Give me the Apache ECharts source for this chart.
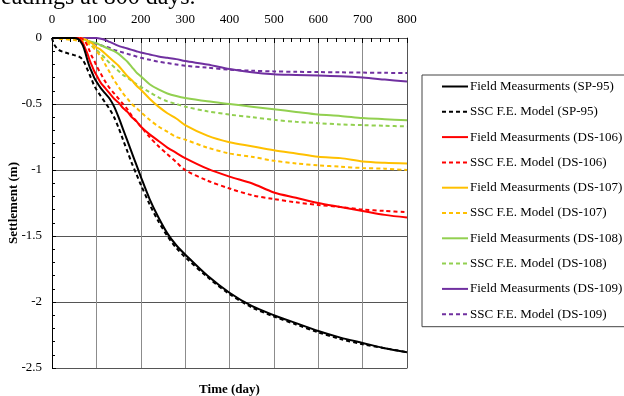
<!DOCTYPE html>
<html>
<head>
<meta charset="utf-8">
<script src="https://cdn.jsdelivr.net/npm/echarts@6/dist/echarts.min.js"></script>
<style>
html,body{margin:0;padding:0;background:#fff;}
#chart{width:624px;height:396px;}
</style>
</head>
<body>
<div id="chart"></div>
<script>
// ---- data ----
const days = [0,5,15,30,50,60,65,70,75,80,85,90,95,100,110,120,130,140,150,160,170,180,190,200,220,240,260,280,300,350,400,450,500,550,600,650,700,750,800];
const fieldSP95 = [0,0,0,0,0,-0.01,-0.03,-0.06,-0.11,-0.17,-0.22,-0.26,-0.3,-0.33,-0.38,-0.42,-0.46,-0.52,-0.6,-0.69,-0.78,-0.87,-0.96,-1.05,-1.22,-1.36,-1.48,-1.57,-1.64,-1.8,-1.93,-2.03,-2.1,-2.16,-2.22,-2.27,-2.31,-2.35,-2.38];
const modelSP95 = [0,-0.05,-0.09,-0.11,-0.13,-0.14,-0.15,-0.17,-0.2,-0.24,-0.28,-0.32,-0.36,-0.39,-0.44,-0.49,-0.54,-0.6,-0.68,-0.77,-0.86,-0.95,-1.03,-1.11,-1.26,-1.39,-1.5,-1.59,-1.66,-1.81,-1.94,-2.04,-2.11,-2.17,-2.23,-2.28,-2.32,-2.35,-2.38];
const fieldDS106 = [0,0,0,0,0,0,-0.02,-0.04,-0.08,-0.12,-0.17,-0.21,-0.25,-0.28,-0.34,-0.38,-0.42,-0.46,-0.49,-0.53,-0.56,-0.6,-0.63,-0.67,-0.73,-0.78,-0.83,-0.87,-0.91,-0.99,-1.05,-1.1,-1.17,-1.21,-1.25,-1.28,-1.31,-1.34,-1.36];
const modelDS106 = [0,0,0,0,0,0,0,-0.01,-0.03,-0.06,-0.1,-0.14,-0.17,-0.21,-0.27,-0.33,-0.38,-0.42,-0.46,-0.5,-0.54,-0.59,-0.63,-0.67,-0.75,-0.82,-0.88,-0.94,-1.0,-1.08,-1.14,-1.19,-1.22,-1.245,-1.265,-1.28,-1.3,-1.31,-1.32];
const fieldDS107 = [0,0,0,0,0,0,0,-0.005,-0.01,-0.02,-0.03,-0.04,-0.055,-0.07,-0.09,-0.12,-0.15,-0.18,-0.21,-0.25,-0.29,-0.32,-0.36,-0.39,-0.46,-0.52,-0.57,-0.61,-0.66,-0.74,-0.79,-0.82,-0.85,-0.875,-0.9,-0.91,-0.935,-0.945,-0.95];
const modelDS107 = [0,0,-0.005,-0.01,-0.015,-0.02,-0.02,-0.025,-0.03,-0.04,-0.05,-0.06,-0.08,-0.1,-0.14,-0.2,-0.26,-0.32,-0.37,-0.42,-0.46,-0.5,-0.53,-0.56,-0.62,-0.67,-0.71,-0.75,-0.77,-0.83,-0.875,-0.9,-0.93,-0.95,-0.965,-0.975,-0.985,-0.99,-1.0];
const fieldDS108 = [0,0,0,0,0,0,-0.005,-0.01,-0.015,-0.02,-0.025,-0.03,-0.035,-0.04,-0.055,-0.07,-0.085,-0.1,-0.12,-0.15,-0.18,-0.22,-0.26,-0.29,-0.35,-0.39,-0.42,-0.44,-0.455,-0.48,-0.5,-0.52,-0.54,-0.56,-0.58,-0.59,-0.606,-0.615,-0.624];
const modelDS108 = [0,0,0,0,0,0,-0.005,-0.01,-0.02,-0.03,-0.045,-0.06,-0.075,-0.09,-0.12,-0.155,-0.19,-0.22,-0.25,-0.28,-0.3,-0.325,-0.35,-0.37,-0.41,-0.45,-0.48,-0.5,-0.52,-0.555,-0.58,-0.6,-0.62,-0.635,-0.645,-0.655,-0.66,-0.665,-0.67];
const fieldDS109 = [0,0,0,0,0,0,0,0,0,0,0,0,0,0,-0.005,-0.015,-0.03,-0.045,-0.06,-0.07,-0.08,-0.09,-0.1,-0.11,-0.125,-0.14,-0.15,-0.16,-0.175,-0.2,-0.235,-0.26,-0.275,-0.28,-0.285,-0.29,-0.3,-0.315,-0.33];
const modelDS109 = [0,0,0,0,-0.005,-0.01,-0.012,-0.015,-0.02,-0.025,-0.03,-0.035,-0.04,-0.045,-0.055,-0.065,-0.075,-0.09,-0.1,-0.11,-0.12,-0.13,-0.14,-0.15,-0.165,-0.18,-0.19,-0.2,-0.21,-0.225,-0.24,-0.248,-0.253,-0.256,-0.258,-0.26,-0.262,-0.264,-0.265];

const seriesNames = [
  'Field Measurments (SP-95)','SSC F.E. Model (SP-95)',
  'Field Measurments (DS-106)','SSC F.E. Model (DS-106)',
  'Field Measurments (DS-107)','SSC F.E. Model (DS-107)',
  'Field Measurments (DS-108)','SSC F.E. Model (DS-108)',
  'Field Measurments (DS-109)','SSC F.E. Model (DS-109)'
];
const seriesValues = [fieldSP95, modelSP95, fieldDS106, modelDS106, fieldDS107, modelDS107, fieldDS108, modelDS108, fieldDS109, modelDS109];
const seriesColors = ['#000000','#000000','#ff0000','#ff0000','#ffc000','#ffc000','#92d050','#92d050','#7030a0','#7030a0'];
const xTicks = [0,800,100];
const yTicks = [-2.5,0,0.5];
const headerText = 'readings at 800 days.';

// ---- chart ----
const FONT = '"Liberation Serif", "Times New Roman", serif';
const chart = echarts.init(document.getElementById('chart'), null, {renderer:'canvas'});

const series = seriesNames.map((name, i) => ({
  name: name,
  type: 'line',
  xAxisIndex: 0,
  yAxisIndex: 0,
  data: days.map((d, k) => [d, seriesValues[i][k]]),
  showSymbol: false,
  symbol: 'none',
  smooth: 0.3,
  z: 10 - i,
  lineStyle: {
    color: seriesColors[i],
    width: 2,
    type: (i % 2 === 1) ? [4, 3] : 'solid'
  },
  itemStyle: {color: seriesColors[i]}
}));

const option = {
  animation: false,
  backgroundColor: '#ffffff',
  textStyle: {fontFamily: FONT},
  graphic: [{
    type: 'text',
    left: -7,
    top: -14,
    style: {text: headerText, font: '24px ' + FONT, fill: '#000'}
  }],
  grid: {left: 52, top: 38, width: 355, height: 330, containLabel: false, outerBoundsMode: 'none'},
  legend: {
    orient: 'vertical',
    left: 422,
    top: 75,
    itemWidth: 26,
    itemHeight: 14,
    itemGap: 12.3,
    padding: [5, 14, 6, 19],
    borderColor: '#444',
    borderWidth: 1,
    data: seriesNames,
    itemStyle: {color: 'rgba(0,0,0,0)', borderWidth: 0, borderColor: 'rgba(0,0,0,0)', opacity: 0},
    textStyle: {fontFamily: FONT, fontSize: 13, color: '#000', padding: [0,0,0,-3]}
  },
  xAxis: [{
    type: 'value',
    position: 'top',
    min: xTicks[0], max: xTicks[1], interval: xTicks[2],
    axisLine: {show: true, lineStyle: {color: '#000', width: 1}},
    axisTick: {show: true, inside: true, length: 5, lineStyle: {color: '#000'}},
    minorTick: {show: true, splitNumber: 5, length: 4, lineStyle: {color: '#000'}},
    axisLabel: {fontFamily: FONT, fontSize: 13, color: '#000', margin: 12},
    splitLine: {show: true, lineStyle: {color: '#8c8c8c', width: 1}}
  }, {
    type: 'value',
    position: 'bottom',
    min: xTicks[0], max: xTicks[1], interval: xTicks[2],
    axisLine: {show: true, lineStyle: {color: '#555', width: 1}},
    axisTick: {show: false},
    axisLabel: {show: false},
    splitLine: {show: false},
    name: 'Time (day)',
    nameLocation: 'middle',
    nameGap: 15,
    nameMoveOverlap: false,
    nameTextStyle: {fontFamily: FONT, fontSize: 13, fontWeight: 'bold', color: '#000'}
  }],
  yAxis: [{
    type: 'value',
    position: 'left',
    min: yTicks[0], max: yTicks[1], interval: yTicks[2],
    axisLine: {show: true, onZero: false, lineStyle: {color: '#000', width: 1}},
    axisTick: {show: true, inside: true, length: 4, lineStyle: {color: '#000'}},
    minorTick: {show: true, splitNumber: 5, length: 3, lineStyle: {color: '#000'}},
    axisLabel: {fontFamily: FONT, fontSize: 13, color: '#000', margin: 10},
    splitLine: {show: true, lineStyle: {color: '#555', width: 1}},
    name: 'Settlement (m)',
    nameLocation: 'middle',
    nameGap: 32,
    nameMoveOverlap: false,
    nameRotate: 90,
    nameTextStyle: {fontFamily: FONT, fontSize: 13, fontWeight: 'bold', color: '#000'}
  }, {
    type: 'value',
    position: 'right',
    min: yTicks[0], max: yTicks[1], interval: yTicks[2],
    axisLine: {show: true, onZero: false, lineStyle: {color: '#555', width: 1}},
    axisTick: {show: false},
    axisLabel: {show: false},
    splitLine: {show: false}
  }],
  series: series
};
chart.setOption(option);
</script>
</body>
</html>
